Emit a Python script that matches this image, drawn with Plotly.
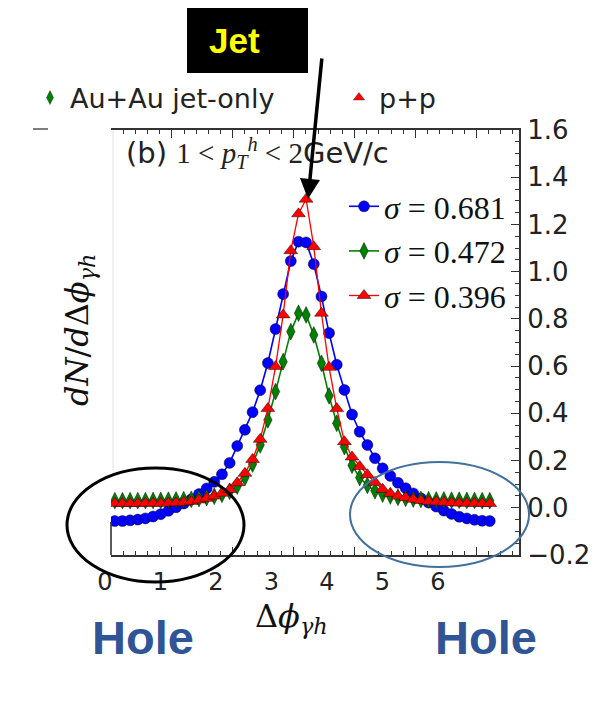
import plotly.graph_objects as go

# ---------------- data ----------------
dphi = [0.063, 0.188, 0.314, 0.440, 0.565, 0.691, 0.817, 0.942, 1.068, 1.194,
        1.319, 1.445, 1.571, 1.696, 1.822, 1.948, 2.073, 2.199, 2.325, 2.450,
        2.576, 2.702, 2.827, 2.953, 3.079, 3.204, 3.330, 3.456, 3.581, 3.707,
        3.833, 3.958, 4.084, 4.210, 4.335, 4.461, 4.587, 4.712, 4.838, 4.964,
        5.089, 5.215, 5.341, 5.466, 5.592, 5.718, 5.843, 5.969, 6.095, 6.220]

dn_sigma_0681 = [-0.056, -0.056, -0.053, -0.050, -0.045, -0.037, -0.027, -0.013, 0.002, 0.018,
                 0.036, 0.058, 0.082, 0.110, 0.142, 0.190, 0.262, 0.330, 0.405, 0.498,
                 0.613, 0.757, 0.905, 1.045, 1.127, 1.124, 1.032, 0.895, 0.740, 0.606,
                 0.499, 0.395, 0.322, 0.266, 0.210, 0.167, 0.135, 0.106, 0.083, 0.061,
                 0.040, 0.022, 0.005, -0.012, -0.026, -0.038, -0.045, -0.051, -0.055, -0.056]

dn_sigma_0472 = [0.030, 0.030, 0.030, 0.030, 0.030, 0.031, 0.031, 0.032, 0.033, 0.034,
                 0.036, 0.039, 0.043, 0.049, 0.057, 0.070, 0.092, 0.128, 0.185, 0.266,
                 0.372, 0.492, 0.619, 0.746, 0.824, 0.817, 0.732, 0.612, 0.474, 0.358,
                 0.259, 0.180, 0.128, 0.095, 0.072, 0.058, 0.050, 0.044, 0.040, 0.037,
                 0.035, 0.034, 0.033, 0.033, 0.032, 0.032, 0.031, 0.031, 0.030, 0.030]

dn_sigma_0396 = [0.018, 0.018, 0.018, 0.018, 0.019, 0.019, 0.019, 0.020, 0.021, 0.023,
                 0.027, 0.033, 0.040, 0.050, 0.062, 0.077, 0.106, 0.146, 0.205, 0.290,
                 0.420, 0.598, 0.817, 1.089, 1.245, 1.307, 1.106, 0.824, 0.595, 0.420,
                 0.280, 0.215, 0.175, 0.140, 0.108, 0.078, 0.061, 0.050, 0.043, 0.036,
                 0.031, 0.027, 0.025, 0.023, 0.021, 0.020, 0.019, 0.019, 0.018, 0.018]

series_labels = ["<i>σ</i> = 0.681", "<i>σ</i> = 0.472", "<i>σ</i> = 0.396"]
system_labels = ["Au+Au jet-only", "p+p"]
x_tick_values = [0, 1, 2, 3, 4, 5, 6]
y_tick_values = [-0.2, 0.0, 0.2, 0.4, 0.6, 0.8, 1.0, 1.2, 1.4, 1.6]
y_tick_text = ["\u22120.2", "0.0", "0.2", "0.4", "0.6", "0.8", "1.0", "1.2", "1.4", "1.6"]

# ---------------- page geometry (pixels) ----------------
W, H = 596, 728
P_L, P_R, P_T, P_B = 100, 519, 130, 555   # paper box
AX_L = 111                                 # left edge of the data axis


def fx(p):
    return (p - P_L) / (P_R - P_L)


def fy(p):
    return (P_B - p) / (P_B - P_T)


SANS = "DejaVu Sans"
SERIF = "Liberation Serif, DejaVu Serif, serif"
MATH = "DejaVu Serif, serif"
BOLD = "Liberation Sans, Arial, sans-serif"

fig = go.Figure()

styles = [
    (dn_sigma_0681, "#0000ff", "circle", 11, 1.6),
    (dn_sigma_0472, "#008000", "diamond-tall", 12, 1.6),
    (dn_sigma_0396, "#ff0000", "triangle-up", 12, 1.3),
]
for k, (vals, col, sym, size, lw) in enumerate(styles):
    fig.add_trace(go.Scatter(
        x=dphi, y=vals, mode="lines+markers", name=series_labels[k],
        line=dict(color=col, width=lw),
        marker=dict(color=col, symbol=sym, size=size,
                    line=dict(color="rgba(0,0,0,0.75)", width=0.6)),
        legendgroup=f"g{k}", legend="legend", cliponaxis=True,
    ))

# entries of the system legend above the frame
for name, col, sym, lw in zip(system_labels, ["#008000", "#ff0000"],
                              ["diamond-tall", "triangle-up"], [264, None]):
    fig.add_trace(go.Scatter(
        x=[None], y=[None], mode="markers", name=name, xaxis="x2",
        marker=dict(color=col, symbol=sym, size=10,
                    line=dict(color="rgba(0,0,0,0.6)", width=0.5)),
        legend="legend2", legendwidth=lw,
    ))

axis_col = "#333333"
tick_font = dict(family=SANS, size=26, color="#222222")

fig.update_layout(
    width=W, height=H,
    margin=dict(l=P_L, r=W - P_R, t=P_T, b=H - P_B, pad=0, autoexpand=False),
    paper_bgcolor="white", plot_bgcolor="rgba(0,0,0,0)",
    showlegend=True,
    xaxis=dict(
        domain=[fx(AX_L), 1], range=[0, 6.7], anchor="y", automargin=False,
        tickvals=x_tick_values, showticklabels=False,
        ticks="inside", ticklen=8, tickwidth=1.2, tickcolor=axis_col,
        minor=dict(dtick=0.2, ticks="inside", ticklen=4, tickwidth=1, tickcolor=axis_col),
        showline=True, linecolor=axis_col, linewidth=1.6, mirror="ticks",
        showgrid=False, zeroline=False,
    ),
    xaxis2=dict(
        domain=[0, 1], range=[-5 / 55.5, -5 / 55.5 + (P_R - P_L) / 55.5],
        anchor="y", side="bottom", automargin=False,
        tickvals=x_tick_values, ticktext=[str(v) for v in x_tick_values],
        ticks="", showline=False, showgrid=False, zeroline=False,
        tickfont=dict(family=SANS, size=24, color="#222222"),
        ticklabelstandoff=10,
    ),
    yaxis=dict(
        range=[-0.2, 1.6], side="right", anchor="x", automargin=False,
        tickvals=y_tick_values, ticktext=y_tick_text,
        ticks="inside", ticklen=8, tickwidth=1.2, tickcolor=axis_col,
        minor=dict(dtick=0.05, ticks="inside", ticklen=4, tickwidth=1, tickcolor=axis_col),
        showline=True, linecolor=axis_col, linewidth=2, mirror=False,
        showgrid=False, zeroline=False,
        tickfont=tick_font, ticklabelstandoff=1,
    ),
    legend=dict(
        x=fx(344), y=fy(179), xanchor="left", yanchor="top",
        bgcolor="rgba(0,0,0,0)", borderwidth=0,
        font=dict(family=SERIF, size=32, color="#111111"),
        itemwidth=30, tracegroupgap=0,
    ),
    legend2=dict(
        orientation="h", x=fx(30), y=fy(98), xanchor="left", yanchor="middle",
        bgcolor="rgba(0,0,0,0)", borderwidth=0,
        font=dict(family=SANS, size=27, color="#222222"),
        itemwidth=30,
    ),
)

# ---------------- frame pieces ----------------
shapes = [
    # visible lower part of the left spine
    dict(type="line", xref="paper", yref="y", x0=fx(AX_L), x1=fx(AX_L), y0=-0.2, y1=-0.06,
         line=dict(color=axis_col, width=1.6)),
    # faint guide along the left side
    dict(type="line", xref="paper", yref="paper", x0=fx(113), x1=fx(113), y0=fy(131), y1=fy(470),
         line=dict(color="#e2e2e2", width=1)),
    # short dash left of the frame
    dict(type="line", xref="paper", yref="paper", x0=fx(33), x1=fx(48), y0=fy(129), y1=fy(129),
         line=dict(color="#555555", width=1.5)),
    # "Jet" label box
    dict(type="rect", xref="paper", yref="paper", x0=fx(187), x1=fx(308), y0=fy(8), y1=fy(73),
         fillcolor="black", line=dict(width=0), layer="above"),
    # hole regions
    dict(type="circle", xref="paper", yref="paper", x0=fx(67), x1=fx(244), y0=fy(468), y1=fy(582),
         line=dict(color="black", width=3), layer="above"),
    dict(type="circle", xref="paper", yref="paper", x0=fx(350), x1=fx(529), y0=fy(462), y1=fy(567),
         line=dict(color="#41719C", width=2), layer="above"),
]
fig.update_layout(shapes=shapes)

annotations = [
    # y axis title
    dict(text="<i>dN</i>/<i>d</i>Δ<i>ϕ</i><sub><i>γh</i></sub>", xref="paper", yref="paper",
         x=fx(79), y=fy(330), xanchor="center", yanchor="middle", textangle=-90,
         showarrow=False, font=dict(family=MATH, size=32, color="#111111")),
    # x axis title
    dict(text="Δ<i>ϕ</i><sub><i>γh</i></sub>", xref="paper", yref="paper",
         x=fx(291), y=fy(618), xanchor="center", yanchor="middle", showarrow=False,
         font=dict(family=MATH, size=32, color="#111111")),
    # panel label
    dict(text="(b) <span style=\"font-family:Liberation Serif\">1 &lt; <i>p</i><sub><i>T</i></sub><sup><i>h</i></sup> &lt; 2</span>GeV/c",
         xref="paper", yref="paper", x=fx(124), y=fy(153), xanchor="left", yanchor="middle",
         showarrow=False, font=dict(family=SANS, size=29, color="#222222")),
    # Jet tag
    dict(text="<b>Jet</b>", xref="paper", yref="paper", x=fx(207), y=fy(41),
         xanchor="left", yanchor="middle", showarrow=False,
         font=dict(family=BOLD, size=35, color="#ffff00")),
    # arrow to the peak
    dict(text="", xref="paper", yref="paper", x=fx(308), y=fy(199),
         ax=14, ay=-142, showarrow=True, arrowhead=2, arrowsize=1.15,
         arrowwidth=3.5, arrowcolor="black"),
    # Hole tags
    dict(text="<b>Hole</b>", xref="paper", yref="paper", x=fx(143), y=fy(637),
         xanchor="center", yanchor="middle",
         showarrow=False, font=dict(family=BOLD, size=47, color="#2F5597")),
    dict(text="<b>Hole</b>", xref="paper", yref="paper", x=fx(486), y=fy(637),
         xanchor="center", yanchor="middle",
         showarrow=False, font=dict(family=BOLD, size=47, color="#2F5597")),
]
fig.update_layout(annotations=annotations)

fig.write_html("out.html")
